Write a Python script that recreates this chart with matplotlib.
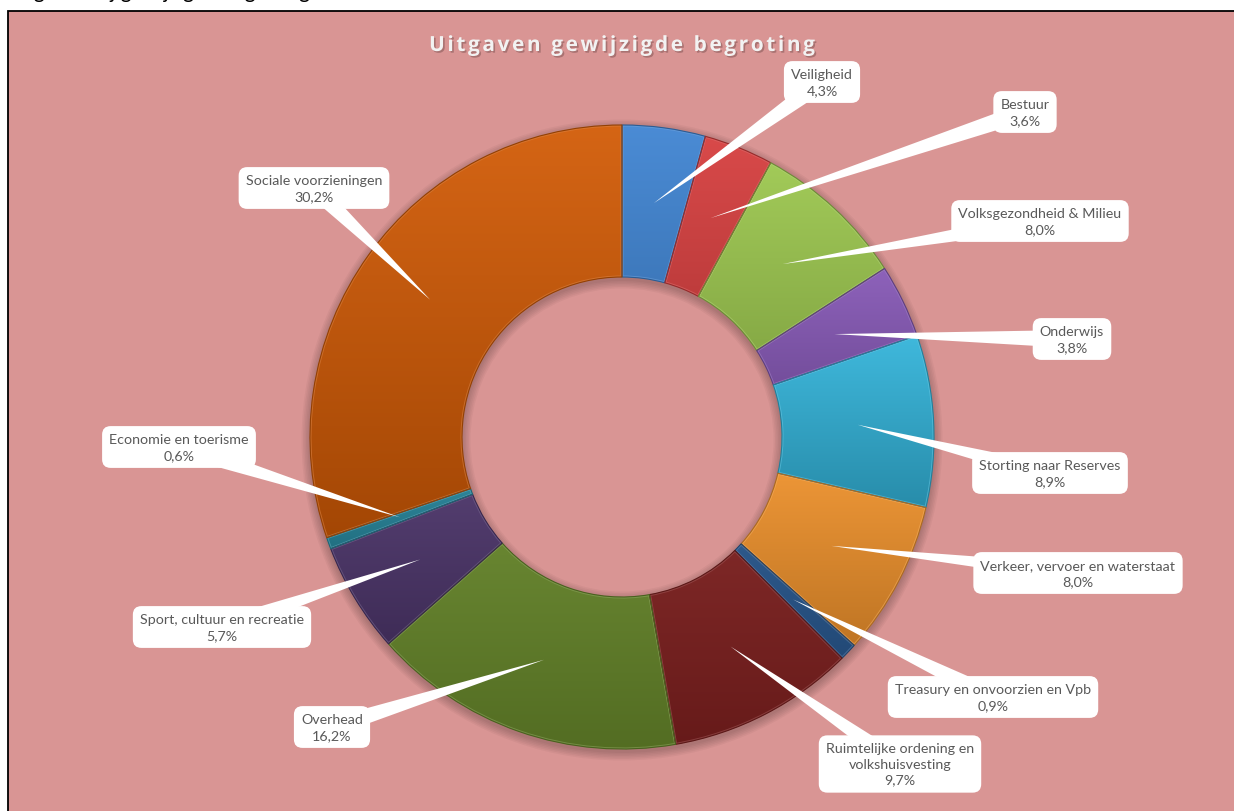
import numpy as np
import matplotlib
matplotlib.use("Agg")
import matplotlib.pyplot as plt
from matplotlib.patches import Rectangle, Polygon, Wedge
from matplotlib.font_manager import FontProperties
from matplotlib.textpath import TextPath
import matplotlib.colors as mcolors
import matplotlib.patheffects as pe

# ---------------- data ----------------
categories = ["Veiligheid", "Bestuur", "Volksgezondheid & Milieu", "Onderwijs",
              "Storting naar Reserves", "Verkeer, vervoer en waterstaat",
              "Treasury en onvoorzien en Vpb",
              "Ruimtelijke ordening en\nvolkshuisvesting", "Overhead",
              "Sport, cultuur en recreatie", "Economie en toerisme",
              "Sociale voorzieningen"]
values = [4.3, 3.6, 8.0, 3.8, 8.9, 8.0, 0.9, 9.7, 16.2, 5.7, 0.6, 30.2]
value_labels = ["4,3%", "3,6%", "8,0%", "3,8%", "8,9%", "8,0%", "0,9%",
                "9,7%", "16,2%", "5,7%", "0,6%", "30,2%"]
colors = ["#3F84D2", "#D63E3E", "#9CC74E", "#8658B6", "#33B4DA", "#F5962E",
          "#2C5E98", "#842221", "#6A8B2C", "#50386F", "#2B8FA6", "#D25B06"]
title = "Uitgaven gewijzigde begroting"
top_text = "Uitgaven bij gewijzigde begroting"

# ---------------- layout ----------------
W, H = 1234, 812
def Y(py):
    return H - py

label_pos = [(822, 83), (1025, 113), (1040, 222), (1072, 340), (1050, 474),
             (1078, 574), (993, 698), (900, 765), (332, 728), (222, 628),
             (179, 448), (314, 189)]
cx, cy = 622, 438
R_out, ring_w = 312, 152

fig = plt.figure(figsize=(W / 100, H / 100), dpi=100)
ax = fig.add_axes([0, 0, 1, 1])
ax.axis("off")

bg = "#D99594"
ax.add_patch(Rectangle((8, Y(820)), 1240, 808, facecolor=bg, edgecolor="black",
                       linewidth=1.3, zorder=0))

# clipped text at very top (only descenders visible, as in the reference)
ax.text(6, Y(-1.5), top_text, fontsize=15, family="Lato", color="black",
        va="baseline", ha="left", zorder=1)

# shadow under donut
for i in range(6):
    ax.add_patch(Wedge((cx, Y(cy + 3)), R_out + 1 + i * 1.5, 0, 360,
                       width=ring_w + 2 + i * 3, facecolor="black",
                       alpha=0.035, edgecolor="none", zorder=1))

def darken(c, f):
    r = np.array(mcolors.to_rgb(c))
    return np.clip(r * f, 0, 1)

def lighten(c, f):
    r = np.array(mcolors.to_rgb(c))
    return np.clip(r + (1 - r) * f, 0, 1)

wedges, _ = ax.pie(values, colors=colors, startangle=90, counterclock=False,
                   radius=R_out, center=(cx, Y(cy)),
                   wedgeprops=dict(width=ring_w, linewidth=0.8))

for w, c in zip(wedges, colors):
    w.set_edgecolor(darken(c, 0.7))
    verts = w.get_path().vertices
    x0, x1 = verts[:, 0].min(), verts[:, 0].max()
    y0, y1 = verts[:, 1].min(), verts[:, 1].max()
    top = lighten(c, 0.06)
    bot = darken(c, 0.78)
    t = np.linspace(0, 1, 128)[:, None]
    grad = (bot[None, :] * (1 - t) + top[None, :] * t)[:, None, :]
    im = ax.imshow(grad, extent=[x0, x1, y0, y1], origin="lower",
                   aspect="auto", zorder=3.5, interpolation="bilinear")
    im.set_clip_path(w)
    edge = Wedge(w.center, w.r, w.theta1, w.theta2, width=w.width,
                 facecolor="none", edgecolor=lighten(c, 0.25), linewidth=2.2,
                 alpha=0.55, zorder=3.6)
    ax.add_patch(edge)
    edge.set_clip_path(w)
    w.set_facecolor("none")
    w.set_zorder(3.7)

# labels with tapered leader lines
r_mid = R_out - ring_w / 2
for w, cat, vl, (lx, ly) in zip(wedges, categories, value_labels, label_pos):
    ang = np.deg2rad((w.theta1 + w.theta2) / 2)
    tx = cx + r_mid * np.cos(ang)
    ty = Y(cy) + r_mid * np.sin(ang)
    bx, by = lx, Y(ly)
    d = np.array([bx - tx, by - ty])
    d = d / np.linalg.norm(d)
    n = np.array([-d[1], d[0]])
    hw = 9
    poly = Polygon([(tx, ty), (bx + n[0] * hw, by + n[1] * hw),
                    (bx - n[0] * hw, by - n[1] * hw)], closed=True,
                   facecolor="white", edgecolor="none", zorder=5)
    ax.add_patch(poly)
    ax.text(bx, by, cat + "\n" + vl, ha="center", va="center",
            fontsize=10.3, family="Lato", color="#595959", linespacing=1.35,
            zorder=6,
            bbox=dict(boxstyle="round,pad=0.5,rounding_size=0.6",
                      facecolor="white", edgecolor="none"))

# title with letter spacing
fp = FontProperties(family="Open Sans", weight="bold", size=15)
def adv(ch):
    a = TextPath((0, 0), "H" + ch + "H", prop=fp).get_extents().width
    b = TextPath((0, 0), "HH", prop=fp).get_extents().width
    return (a - b) * 100 / 72.0  # points -> pixels
spacing = 2.6
advs = [adv(ch) + spacing for ch in title]
total = sum(advs) - spacing
x = 622 - total / 2
shadow = [pe.withSimplePatchShadow(offset=(1.2, -1.2), shadow_rgbFace="#7a5050",
                                   alpha=0.5)]
for ch, a in zip(title, advs):
    if ch != " ":
        ax.text(x, Y(44), ch, ha="left", va="center_baseline", fontproperties=fp,
                color="#F2F2F2", zorder=6, path_effects=shadow)
    x += a

ax.set_xlim(0, W)
ax.set_ylim(0, H)
ax.set_aspect("auto")
fig.savefig("out.png", dpi=100, facecolor="white")
